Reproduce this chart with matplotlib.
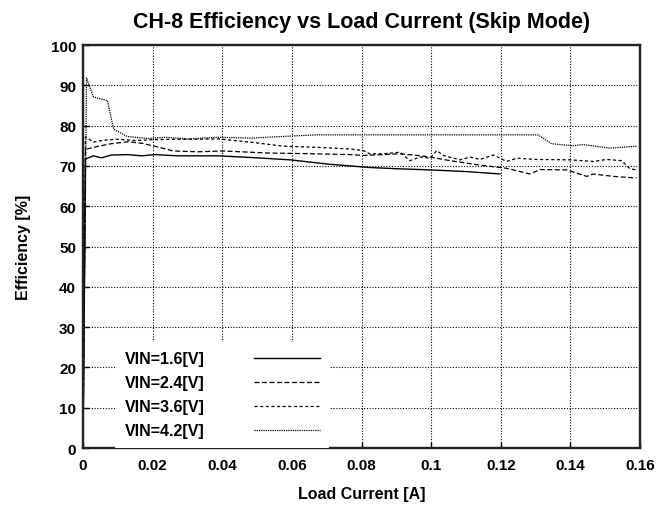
import matplotlib
matplotlib.use("Agg")
import matplotlib.pyplot as plt

plt.rcParams["font.family"] = ["Liberation Sans", "DejaVu Sans"]
plt.rcParams["font.weight"] = "bold"

# ── measured data: load current [A] / efficiency [%] ─────────────────────────
I_16 = [0.0, 0.0007, 0.003, 0.0053, 0.0081, 0.0129, 0.0168, 0.0206, 0.0273,
        0.0388, 0.048, 0.0595, 0.0709, 0.0824, 0.09, 0.1, 0.11, 0.1198]
EFF_16 = [0.0, 71.7, 72.5, 72.0, 72.7, 72.8, 72.5, 72.8, 72.5,
          72.5, 72.1, 71.5, 70.4, 69.6, 69.3, 69.0, 68.6, 68.0]

I_24 = [0.0, 0.0007, 0.004, 0.008, 0.013, 0.017, 0.021, 0.026, 0.033, 0.04,
        0.048, 0.053, 0.067, 0.077, 0.0805, 0.086, 0.091, 0.096, 0.0997,
        0.1054, 0.114, 0.1217, 0.1284, 0.1313, 0.1389, 0.1447, 0.1466,
        0.1523, 0.159]
EFF_24 = [0.0, 74.1, 74.8, 75.5, 76.0, 75.6, 74.8, 73.7, 73.5, 73.7,
          73.4, 73.2, 73.0, 72.8, 72.6, 72.8, 73.0, 72.6, 72.2,
          71.3, 70.2, 69.4, 68.0, 69.1, 69.0, 67.4, 68.0,
          67.4, 67.0]

I_36 = [0.0, 0.0007, 0.003, 0.006, 0.010, 0.015, 0.020, 0.025, 0.030, 0.039,
        0.048, 0.0575, 0.0671, 0.0767, 0.0805, 0.0824, 0.0863, 0.0911,
        0.0939, 0.0968, 0.0997, 0.1016, 0.1035, 0.1083, 0.1112, 0.114,
        0.1179, 0.1217, 0.1246, 0.1303, 0.14, 0.1466, 0.1504, 0.1547,
        0.1571, 0.159]
EFF_36 = [0.0, 77.2, 75.9, 76.4, 76.6, 76.3, 76.5, 76.6, 76.6, 76.7,
          75.9, 74.9, 74.6, 74.2, 73.8, 73.0, 73.0, 73.4,
          71.3, 72.2, 71.9, 73.8, 72.6, 71.5, 72.2, 71.6,
          72.7, 71.1, 71.9, 71.6, 71.5, 71.1, 71.6, 71.3,
          69.3, 69.0]

I_42 = [0.0, 0.001, 0.003, 0.007, 0.0088, 0.0127, 0.0187, 0.0235, 0.0302,
        0.0388, 0.048, 0.0595, 0.0671, 0.0767, 0.1054, 0.1307, 0.1346,
        0.1408, 0.1436, 0.1514, 0.159]
EFF_42 = [0.0, 91.8, 87.1, 86.2, 79.1, 77.3, 76.8, 77.1, 76.7,
          77.1, 76.9, 77.4, 77.7, 77.7, 77.7, 77.7, 75.5,
          75.0, 75.3, 74.4, 74.9]

LABELS = ["VIN=1.6[V]", "VIN=2.4[V]", "VIN=3.6[V]", "VIN=4.2[V]"]
X_TICKS = [0, 0.02, 0.04, 0.06, 0.08, 0.1, 0.12, 0.14, 0.16]
X_TICK_LABELS = ["0", "0.02", "0.04", "0.06", "0.08", "0.1", "0.12", "0.14", "0.16"]
Y_TICKS = [0, 10, 20, 30, 40, 50, 60, 70, 80, 90, 100]

STYLES = [
    dict(linestyle="-", linewidth=1.0),
    dict(linestyle=(0, (4, 2)), linewidth=0.9),
    dict(linestyle=(0, (2.5, 2)), linewidth=0.9),
    dict(linestyle=(0, (1, 0.8)), linewidth=0.9),
]


def main():
    fig = plt.figure(figsize=(6.68, 5.10), dpi=100)
    ax = fig.add_axes([0.1243, 0.1196, 0.8338, 0.7902])

    series = [(I_16, EFF_16), (I_24, EFF_24), (I_36, EFF_36), (I_42, EFF_42)]
    for (x, y), label, style in zip(series, LABELS, STYLES):
        ax.plot(x, y, color="black", label=label, **style)

    ax.set_xlim(0, 0.16)
    ax.set_ylim(0, 100)
    ax.set_xticks(X_TICKS)
    ax.set_xticklabels(X_TICK_LABELS)
    ax.set_yticks(Y_TICKS)
    ax.tick_params(direction="in", length=4, width=1.0, labelsize=11,
                   top=False, right=False)
    ax.tick_params(axis="x", pad=7)
    ax.tick_params(axis="y", pad=5)

    ax.grid(True, color="black", linestyle=(0, (1, 1.5)), linewidth=0.8)
    for sp in ax.spines.values():
        sp.set_linewidth(1.7)
        sp.set_color("#222222")

    ax.set_title("CH-8 Efficiency vs Load Current (Skip Mode)",
                 fontsize=15.5, fontweight="bold", pad=13)
    ax.set_xlabel("Load Current [A]", fontsize=11.5, fontweight="bold", labelpad=10)
    ax.set_ylabel("Efficiency [%]", fontsize=11.5, fontweight="bold", labelpad=14)

    # legend: text first, line sample after; white box hides the grid behind it
    leg = ax.legend(loc="lower left", bbox_to_anchor=(0.058, 0.0),
                    borderaxespad=0, markerfirst=False, frameon=True,
                    fancybox=False, framealpha=1, edgecolor="white",
                    handlelength=4.1, handletextpad=3.1, labelspacing=0.57,
                    borderpad=0.6, prop=dict(size=11.5, weight="bold"))
    leg.get_frame().set_linewidth(0)

    fig.savefig("out.png", dpi=100)
    plt.close(fig)


if __name__ == "__main__":
    main()
